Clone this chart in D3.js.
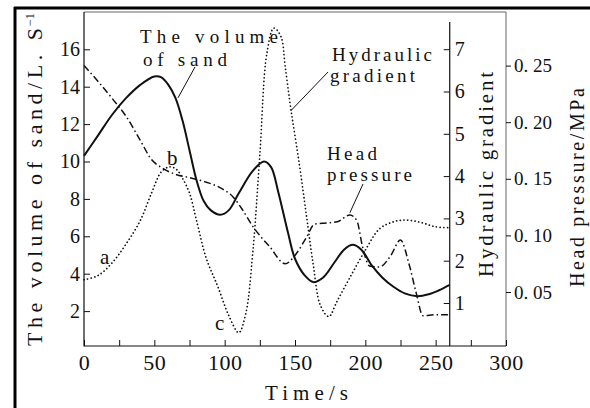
<!DOCTYPE html>
<html>
<head>
<meta charset="utf-8">
<script src="https://cdn.jsdelivr.net/npm/d3@7"></script>
<style>
  body { margin: 0; background: #fff; }
  svg { display: block; }
</style>
</head>
<body>
<div id="root"></div>
<script>
// time axis (s)
const xTicks = [0, 25, 50, 75, 100, 125, 150, 175, 200, 225, 250, 275, 300];
const xTickLabels = [0, 50, 100, 150, 200, 250, 300];
const sandTicks = [2, 4, 6, 8, 10, 12, 14, 16];
const gradTicks = [1, 2, 3, 4, 5, 6, 7];
const pressTicks = [0.05, 0.10, 0.15, 0.20, 0.25];

// the volume of sand (L/s), solid line
const sandT = [0, 10, 20, 30, 40, 50, 55, 60, 65, 70, 75, 80, 85, 90, 97, 103, 110, 120, 128, 133, 138, 145, 150, 157, 163, 170, 178, 185, 191, 197, 205, 212, 220, 228, 237, 245, 252, 260];
const sandV = [10.3, 11.4, 12.5, 13.4, 14.1, 14.55, 14.5, 14.1, 13.4, 12.2, 10.6, 9.0, 7.9, 7.4, 7.15, 7.4, 8.3, 9.5, 10.0, 9.7, 8.4, 6.2, 4.8, 3.9, 3.55, 3.8, 4.6, 5.3, 5.55, 5.3, 4.4, 3.8, 3.3, 2.95, 2.8, 2.9, 3.1, 3.4];

// head pressure (MPa), dash-dot line
const headT = [0, 10, 20, 30, 40, 48, 55, 65, 75, 87, 97, 106, 113, 120, 132, 143, 151, 158, 164, 172, 180, 189, 194, 198, 203, 210, 218, 225, 231, 236, 241, 250, 260];
const headP = [0.250, 0.236, 0.221, 0.205, 0.184, 0.167, 0.160, 0.154, 0.151, 0.147, 0.142, 0.134, 0.122, 0.108, 0.090, 0.075, 0.084, 0.098, 0.110, 0.111, 0.112, 0.118, 0.113, 0.090, 0.073, 0.072, 0.082, 0.096, 0.075, 0.050, 0.029, 0.030, 0.030];

// hydraulic gradient, dotted line
const gradT = [0, 10, 20, 30, 40, 48, 55, 61, 66, 70, 75, 80, 87, 95, 103, 110, 115, 120, 125, 130, 135, 140, 143, 147, 153, 158, 163, 168, 174, 180, 189, 200, 210, 220, 229, 240, 250, 260];
const gradH = [1.55, 1.65, 1.95, 2.4, 2.95, 3.6, 4.1, 4.22, 4.15, 3.95, 3.6, 2.95, 2.05, 1.4, 0.7, 0.3, 0.75, 2.2, 4.5, 6.9, 7.5, 7.3, 6.6, 5.6, 4.3, 3.1, 1.9, 0.95, 0.68, 1.05, 1.6, 2.25, 2.75, 2.92, 2.96, 2.9, 2.8, 2.78];

const W = 590, H = 408;
const plot = { left: 84, right: 506, top: 12, bottom: 346 };
const serif = "'Liberation Serif', 'Times New Roman', Times, Tinos, 'DejaVu Serif', 'Noto Serif', serif";

const svg = d3.select('#root').append('svg')
  .attr('width', W)
  .attr('height', H)
  .style('font-family', serif);

const x = d3.scaleLinear([0, 300], [plot.left, plot.right]);
const ySand = d3.scaleLinear([0, 18], [348.5, 11.9]);
const yGrad = d3.scaleLinear([0, 8], [345.3, 6.9]);
const yPress = d3.scaleLinear([0, 0.3], [348.6, 9.0]);
const gradAxisX = x(260);

// outer border (top and left)
svg.append('line').attr('x1', 14).attr('x2', W).attr('y1', 8).attr('y2', 8)
  .attr('stroke', '#000').attr('stroke-width', 3);
svg.append('line').attr('x1', 15).attr('x2', 15).attr('y1', 7).attr('y2', H)
  .attr('stroke', '#000').attr('stroke-width', 3);

// plot frame
svg.append('path')
  .attr('d', `M${plot.left},${plot.top} H${plot.right} V${plot.bottom}`)
  .attr('fill', 'none').attr('stroke', '#666').attr('stroke-width', 1);
svg.append('path')
  .attr('d', `M${plot.left},${plot.top} V${plot.bottom} H${plot.right}`)
  .attr('fill', 'none').attr('stroke', '#111').attr('stroke-width', 1.2);
svg.append('line')
  .attr('x1', gradAxisX).attr('x2', gradAxisX).attr('y1', 22).attr('y2', plot.bottom)
  .attr('stroke', '#111').attr('stroke-width', 1.2);

function styleAxis(g, size) {
  g.attr('font-family', null).attr('font-size', null);
  g.select('.domain').remove();
  g.selectAll('.tick line').attr('stroke', '#111');
  g.selectAll('.tick text').attr('font-size', size)
    .style('font-family', serif).attr('fill', '#111');
}

svg.append('g')
  .attr('transform', `translate(0,${plot.bottom})`)
  .call(d3.axisBottom(x).tickValues(xTicks).tickSize(-6).tickPadding(8)
    .tickFormat(d => xTickLabels.includes(d) ? d : ''))
  .call(g => styleAxis(g, 22))
  .call(g => g.selectAll('.tick text').attr('letter-spacing', 0.5));

svg.append('g')
  .attr('transform', `translate(${plot.left},0)`)
  .call(d3.axisLeft(ySand).tickValues(sandTicks).tickSize(-6).tickPadding(4))
  .call(g => styleAxis(g, 20));

svg.append('g')
  .attr('transform', `translate(${gradAxisX},0)`)
  .call(d3.axisRight(yGrad).tickValues(gradTicks).tickSize(-6).tickPadding(5))
  .call(g => styleAxis(g, 20));

svg.append('g')
  .attr('transform', `translate(${plot.right},0)`)
  .call(d3.axisRight(yPress).tickValues(pressTicks).tickSize(5).tickPadding(3)
    .tickFormat(d => d3.format('.2f')(d).replace('.', '. ')))
  .call(g => styleAxis(g, 19));

// curves
const sandLine = d3.line().x(d => x(d[0])).y(d => ySand(d[1])).curve(d3.curveCatmullRom);
const headLine = d3.line().x(d => x(d[0])).y(d => yPress(d[1])).curve(d3.curveMonotoneX);
const gradLine = d3.line().x(d => x(d[0])).y(d => yGrad(d[1])).curve(d3.curveCatmullRom);

svg.append('path')
  .datum(d3.zip(gradT, gradH))
  .attr('d', gradLine)
  .attr('fill', 'none').attr('stroke', '#111').attr('stroke-width', 1.7)
  .attr('stroke-linecap', 'round')
  .attr('stroke-dasharray', '0.1,3.6');

svg.append('path')
  .datum(d3.zip(headT, headP))
  .attr('d', headLine)
  .attr('fill', 'none').attr('stroke', '#111').attr('stroke-width', 1.5)
  .attr('stroke-dasharray', '7,3,1.5,3');

svg.append('path')
  .datum(d3.zip(sandT, sandV))
  .attr('d', sandLine)
  .attr('fill', 'none').attr('stroke', '#111').attr('stroke-width', 2);

// axis titles
svg.append('text')
  .attr('transform', 'translate(42,346) rotate(-90)')
  .attr('font-size', 22).attr('fill', '#111')
  .attr('textLength', 318).attr('lengthAdjust', 'spacing')
  .text('The volume of sand/L. S');
svg.append('text')
  .attr('transform', 'translate(34,26) rotate(-90)')
  .attr('font-size', 12).attr('fill', '#111')
  .text('\u22121');

svg.append('text')
  .attr('transform', 'translate(493,277) rotate(-90)')
  .attr('font-size', 21).attr('fill', '#111')
  .attr('textLength', 205).attr('lengthAdjust', 'spacing')
  .text('Hydraulic gradient');

svg.append('text')
  .attr('transform', 'translate(584,287) rotate(-90)')
  .attr('font-size', 20).attr('fill', '#111')
  .attr('textLength', 199).attr('lengthAdjust', 'spacing')
  .text('Head pressure/MPa');

svg.append('text')
  .attr('x', 265).attr('y', 400)
  .attr('font-size', 21).attr('fill', '#111')
  .attr('textLength', 83).attr('lengthAdjust', 'spacing')
  .text('Time/s');

// annotations
const notes = [
  { text: 'The volume', x: 140, y: 43, len: 138 },
  { text: 'of sand', x: 143, y: 66, len: 84 },
  { text: 'Hydraulic', x: 332, y: 61, len: 100 },
  { text: 'gradient', x: 330, y: 82, len: 85 },
  { text: 'Head', x: 327, y: 160, len: 50 },
  { text: 'pressure', x: 327, y: 181, len: 85 },
];
svg.selectAll('.note')
  .data(notes)
  .enter()
  .append('text')
    .attr('class', 'note')
    .attr('x', d => d.x).attr('y', d => d.y)
    .attr('font-size', 19).attr('fill', '#111')
    .attr('textLength', d => d.len).attr('lengthAdjust', 'spacing')
    .text(d => d.text);

const points = [
  { text: 'a', x: 100, y: 264 },
  { text: 'b', x: 167, y: 165 },
  { text: 'c', x: 215, y: 330 },
];
svg.selectAll('.pt')
  .data(points)
  .enter()
  .append('text')
    .attr('class', 'pt')
    .attr('x', d => d.x).attr('y', d => d.y)
    .attr('font-size', 21).attr('fill', '#111')
    .text(d => d.text);

// leader lines: label -> point on curve
const leaders = [
  [195, 67, x(66.8), ySand(13.4)],
  [328, 72, x(147.2), yGrad(5.55)],
  [363, 184, x(189), yPress(0.12)],
];
svg.selectAll('.leader')
  .data(leaders)
  .enter()
  .append('line')
    .attr('class', 'leader')
    .attr('x1', d => d[0]).attr('y1', d => d[1])
    .attr('x2', d => d[2]).attr('y2', d => d[3])
    .attr('stroke', '#111').attr('stroke-width', 1);
</script>
</body>
</html>
